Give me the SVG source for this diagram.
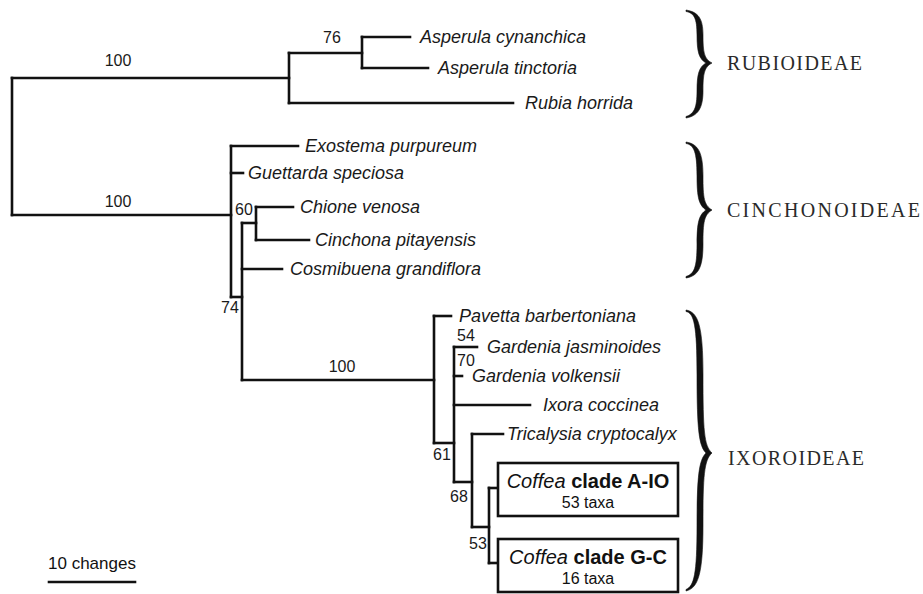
<svg xmlns="http://www.w3.org/2000/svg" width="923" height="594" viewBox="0 0 923 594">
  <style>
    .br { fill: none; stroke: #111; stroke-width: 2.6; stroke-linecap: square; }
    .taxon { font-family: "Liberation Sans", Arial, sans-serif; font-style: italic; font-size: 18px; fill: #1a1a1a; }
    .sup { font-family: "Liberation Sans", Arial, sans-serif; font-size: 16px; fill: #1a1a1a; }
    .sub { font-family: "Liberation Serif", "Times New Roman", serif; font-size: 20px; fill: #2a2a2a; }
    .box { fill: #fff; stroke: #111; stroke-width: 2.6; }
    .clade { font-family: "Liberation Sans", Arial, sans-serif; font-size: 20px; fill: #111; }
    .count { font-family: "Liberation Sans", Arial, sans-serif; font-size: 16px; fill: #111; }
    .scale { font-family: "Liberation Sans", Arial, sans-serif; font-size: 17px; fill: #111; }
    .brace { fill: #111; stroke: #111; stroke-width: 0.6; }
  </style>

  <!-- tree branches -->
  <g id="connectors">
    <!-- root -->
    <path class="br" d="M12 78 V215"/>
    <path class="br" d="M12 78 H289"/>
    <path class="br" d="M12 215 H231"/>
    <!-- Rubioideae -->
    <path class="br" d="M289 53 V103"/>
    <path class="br" d="M289 53 H362"/>
    <path class="br" d="M362 37 V68"/>
    <path class="br" d="M362 37 H410"/>
    <path class="br" d="M362 68 H428"/>
    <path class="br" d="M289 103 H513"/>
    <!-- Cinchonoideae + Ixoroideae -->
    <path class="br" d="M231 146 V297"/>
    <path class="br" d="M231 146 H298"/>
    <path class="br" d="M231 173 H243"/>
    <path class="br" d="M231 297 H242"/>
    <path class="br" d="M242 223 V380"/>
    <path class="br" d="M242 223 H256"/>
    <path class="br" d="M256 207 V240"/>
    <path class="br" d="M256 207 H293"/>
    <path class="br" d="M256 240 H309"/>
    <path class="br" d="M242 269 H282"/>
    <path class="br" d="M242 380 H434"/>
    <!-- Ixoroideae -->
    <path class="br" d="M434 316 V443"/>
    <path class="br" d="M434 316 H451"/>
    <path class="br" d="M434 443 H454"/>
    <path class="br" d="M454 347 V482"/>
    <path class="br" d="M454 347 H477"/>
    <path class="br" d="M454 376 H462"/>
    <path class="br" d="M454 405 H530"/>
    <path class="br" d="M454 482 H472"/>
    <path class="br" d="M472 434 V527"/>
    <path class="br" d="M472 434 H503"/>
    <path class="br" d="M472 527 H489"/>
    <path class="br" d="M489 488 V563"/>
    <path class="br" d="M489 488 H498"/>
    <path class="br" d="M489 563 H498"/>
  </g>

  <!-- bootstrap support values -->
  <g id="support">
    <text class="sup" x="118" y="66" text-anchor="middle">100</text>
    <text class="sup" x="332" y="43" text-anchor="middle">76</text>
    <text class="sup" x="118" y="207" text-anchor="middle">100</text>
    <text class="sup" x="235" y="215">60</text>
    <text class="sup" x="221" y="313">74</text>
    <text class="sup" x="342" y="372" text-anchor="middle">100</text>
    <text class="sup" x="457" y="341">54</text>
    <text class="sup" x="457" y="366">70</text>
    <text class="sup" x="433" y="460">61</text>
    <text class="sup" x="450" y="502">68</text>
    <text class="sup" x="469" y="549">53</text>
  </g>

  <!-- terminal taxa -->
  <g id="asperula-cynanchica"><text class="taxon" x="420" y="43">Asperula cynanchica</text></g>
  <g id="asperula-tinctoria"><text class="taxon" x="438" y="74">Asperula tinctoria</text></g>
  <g id="rubia-horrida"><text class="taxon" x="525" y="109">Rubia horrida</text></g>
  <g id="exostema-purpureum"><text class="taxon" x="305" y="152">Exostema purpureum</text></g>
  <g id="guettarda-speciosa"><text class="taxon" x="248" y="179">Guettarda speciosa</text></g>
  <g id="chione-venosa"><text class="taxon" x="300" y="213">Chione venosa</text></g>
  <g id="cinchona-pitayensis"><text class="taxon" x="315" y="246">Cinchona pitayensis</text></g>
  <g id="cosmibuena-grandiflora"><text class="taxon" x="290" y="275">Cosmibuena grandiflora</text></g>
  <g id="pavetta-barbertoniana"><text class="taxon" x="459" y="322">Pavetta barbertoniana</text></g>
  <g id="gardenia-jasminoides"><text class="taxon" x="487" y="353">Gardenia jasminoides</text></g>
  <g id="gardenia-volkensii"><text class="taxon" x="472" y="382">Gardenia volkensii</text></g>
  <g id="ixora-coccinea"><text class="taxon" x="543" y="411">Ixora coccinea</text></g>
  <g id="tricalysia-cryptocalyx"><text class="taxon" x="507" y="440">Tricalysia cryptocalyx</text></g>

  <!-- collapsed Coffea clades -->
  <g id="coffea-a-io">
    <rect class="box" x="498" y="463" width="180" height="53"/>
    <text class="clade" x="588" y="488" text-anchor="middle"><tspan font-style="italic">Coffea</tspan> <tspan font-weight="bold">clade A-IO</tspan></text>
    <text class="count" x="588" y="508" text-anchor="middle">53 taxa</text>
  </g>
  <g id="coffea-g-c">
    <rect class="box" x="498" y="539" width="180" height="53"/>
    <text class="clade" x="588" y="564" text-anchor="middle"><tspan font-style="italic">Coffea</tspan> <tspan font-weight="bold">clade G-C</tspan></text>
    <text class="count" x="588" y="584" text-anchor="middle">16 taxa</text>
  </g>

  <!-- subfamily braces -->
  <g id="rubioideae">
    <path class="brace" d="M686 10 C698 12 703 18 703 35 C703 52 704 59 712 63 C704 67 703 74 703 91 C703 108 698 116 686 118 L686 116.5 C694 114 697 108 697 91 C697 74 699 67 706 63 C699 59 697 52 697 35 C697 18 694 13 686 11.5 Z"/>
    <text class="sub" x="727" y="70" textLength="135" lengthAdjust="spacing">RUBIOIDEAE</text>
  </g>
  <g id="cinchonoideae">
    <path class="brace" d="M686 142 C698 144 703 152 703 176 C703 198 704 205 712 210 C704 215 703 222 703 244 C703 268 698 276 686 278 L686 276.5 C694 274 697 268 697 244 C697 222 699 215 706 210 C699 205 697 198 697 176 C697 152 694 145 686 143.5 Z"/>
    <text class="sub" x="727" y="217" textLength="193" lengthAdjust="spacing">CINCHONOIDEAE</text>
  </g>
  <g id="ixoroideae">
    <path class="brace" d="M686 310 C698 312 703 325 703 375 C703 430 704 446 712 453 C704 460 703 476 703 525 C703 575 698 588 686 591 L686 589.5 C694 586 697 575 697 525 C697 476 699 460 706 453 C699 446 697 430 697 375 C697 325 694 313 686 311.5 Z"/>
    <text class="sub" x="728" y="465" textLength="136" lengthAdjust="spacing">IXOROIDEAE</text>
  </g>

  <!-- scale bar -->
  <g id="scale-bar">
    <text class="scale" x="48" y="569">10 changes</text>
    <path class="br" d="M49 582 H135"/>
  </g>
</svg>
